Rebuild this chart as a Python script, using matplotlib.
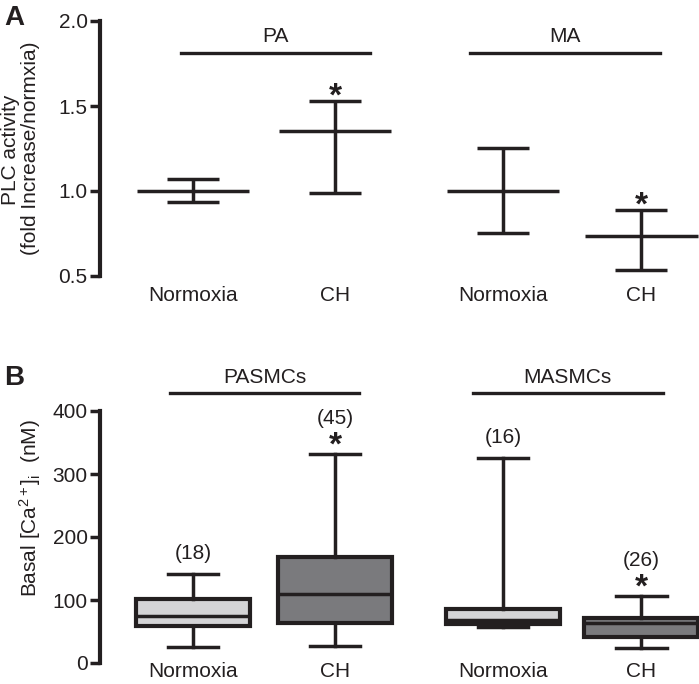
import numpy as np
import matplotlib
matplotlib.use('Agg')
import matplotlib.pyplot as plt

plt.rcParams['font.family'] = ['Liberation Sans', 'DejaVu Sans']
plt.rcParams['mathtext.fontset'] = 'custom'
plt.rcParams['mathtext.rm'] = 'Liberation Sans'
plt.rcParams['mathtext.it'] = 'Liberation Sans:italic'

ink = '#231f20'

# panel A: PLC activity, mean with upper / lower error
plc_labels = ['Normoxia', 'CH', 'Normoxia', 'CH']
plc_mean = [1.0, 1.35, 1.0, 0.735]
plc_hi = [1.07, 1.53, 1.255, 0.888]
plc_lo = [0.935, 0.99, 0.753, 0.535]
plc_star = [False, True, False, True]

# panel B: basal Ca2+ box plots
ca_labels = ['Normoxia', 'CH', 'Normoxia', 'CH']
ca_whislo = [25, 27, 57, 24]
ca_q1 = [59, 63, 62, 41]
ca_med = [75, 110, 68, 63]
ca_q3 = [102, 168, 86, 72]
ca_whishi = [141, 332, 325, 107]
ca_n = ['(18)', '(45)', '(16)', '(26)']
ca_star = [False, True, False, True]
box_colors = ['#d4d4d6', '#7a7a7d', '#d4d4d6', '#7a7a7d']

pos = np.array([0, 0.985, 2.15, 3.11])
xlo, xhi = -0.646, 3.51
fs = 15

fig = plt.figure(figsize=(6.99, 6.84), dpi=100)
W, H = 699.0, 684.0


def style_axis(ax, xpad):
    for s in ['top', 'right', 'bottom']:
        ax.spines[s].set_visible(False)
    ax.spines['left'].set_linewidth(3)
    ax.spines['left'].set_color(ink)
    ax.tick_params(axis='y', length=7, width=2.5, color=ink, labelsize=fs,
                   labelcolor=ink, pad=2)
    ax.tick_params(axis='x', length=0, labelsize=fs, labelcolor=ink, pad=xpad)
    ax.set_xlim(xlo, xhi)
    ax.patch.set_alpha(0)


def star(ax, x, y, dy):
    ax.annotate('*', xy=(x, y), xytext=(0, dy), textcoords='offset pixels',
                ha='center', va='bottom', fontsize=24, fontweight='bold',
                color=ink, annotation_clip=False)


def group(ax, x0, x1, y, name):
    ax.plot([x0, x1], [y, y], color=ink, lw=2.4, clip_on=False)
    ax.annotate(name, xy=((x0 + x1) / 2, y), xytext=(0, 16),
                textcoords='offset pixels', ha='center', va='center',
                fontsize=fs, color=ink, annotation_clip=False)


# ---- panel A ----
axA = fig.add_axes([100 / W, 1 - 276 / H, (W - 100) / W, (276 - 21) / H])
style_axis(axA, 7.5)
axA.set_ylim(0.5, 2.0)
axA.set_yticks([0.5, 1.0, 1.5, 2.0])
axA.set_yticklabels(['0.5', '1.0', '1.5', '2.0'])
axA.set_xticks(pos)
axA.set_xticklabels(plc_labels)

mean = np.array(plc_mean)
yerr = [mean - np.array(plc_lo), np.array(plc_hi) - mean]
axA.errorbar(pos, mean, yerr=yerr, fmt='none', ecolor=ink, elinewidth=2.5,
             capsize=18.5, capthick=2.5, clip_on=False)
axA.hlines(mean, pos - 0.39, pos + 0.39, color=ink, lw=2.5, clip_on=False)
for p, h, s in zip(pos, plc_hi, plc_star):
    if s:
        star(axA, p, h, -12)

group(axA, -0.083, 1.23, 1.812, 'PA')
group(axA, 1.92, 3.24, 1.812, 'MA')

fig.text(11 / W, 1 - 150 / H, 'PLC activity', rotation=90, ha='center',
         va='center', fontsize=fs, color=ink)
fig.text(31 / W, 1 - 148 / H, '(fold Increase/normxia)', rotation=90,
         ha='center', va='center', fontsize=fs, color=ink)
fig.text(4 / W, 1 - 18 / H, 'A', ha='left', va='center', fontsize=20,
         fontweight='bold', color=ink)

# ---- panel B ----
axB = fig.add_axes([100 / W, 1 - 663 / H, (W - 100) / W, (663 - 411) / H])
style_axis(axB, -0.5)
axB.set_ylim(0, 400)
axB.set_yticks([0, 100, 200, 300, 400])

stats = []
for i in range(4):
    stats.append(dict(whislo=ca_whislo[i], q1=ca_q1[i], med=ca_med[i],
                      q3=ca_q3[i], whishi=ca_whishi[i], fliers=[],
                      label=ca_labels[i]))
bp = axB.bxp(stats, positions=pos, widths=0.79, capwidths=0.35,
             patch_artist=True, showfliers=False,
             boxprops=dict(linewidth=3, edgecolor=ink),
             medianprops=dict(linewidth=2.5, color=ink),
             whiskerprops=dict(linewidth=2.5, color=ink),
             capprops=dict(linewidth=2.5, color=ink))
for b, c in zip(bp['boxes'], box_colors):
    b.set_facecolor(c)
    b.set_clip_on(False)
axB.set_xticks(pos)
axB.set_xticklabels(ca_labels)
axB.set_xlim(xlo, xhi)

for p, h, n, s in zip(pos, ca_whishi, ca_n, ca_star):
    if s:
        star(axB, p, h, -8)
        lift = 35
    else:
        lift = 21
    axB.annotate(n, xy=(p, h), xytext=(0, lift), textcoords='offset pixels',
                 ha='center', va='center', fontsize=fs, color=ink,
                 annotation_clip=False)

group(axB, -0.16, 1.15, 428, 'PASMCs')
group(axB, 1.94, 3.26, 428, 'MASMCs')

fig.text(30 / W, 1 - 508 / H, r'Basal [Ca$^{2+}$]$_{\mathrm{i}}$  (nM)',
         rotation=90, ha='center', va='center', fontsize=fs, color=ink)
fig.text(4 / W, 1 - 378 / H, 'B', ha='left', va='center', fontsize=20,
         fontweight='bold', color=ink)

fig.savefig('out.png', dpi=100)
